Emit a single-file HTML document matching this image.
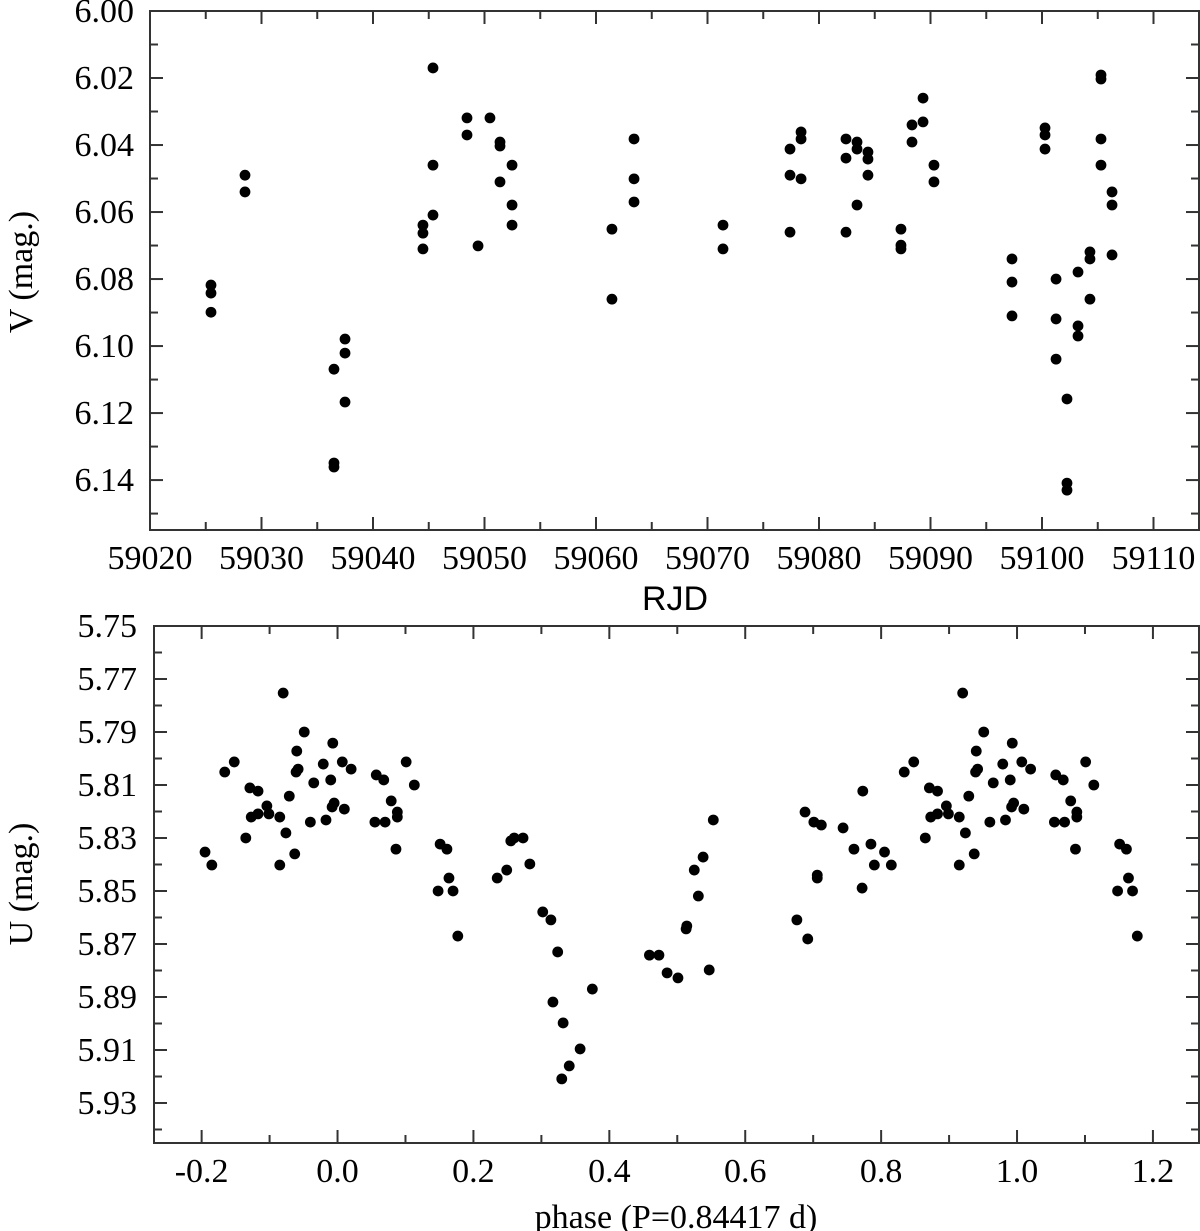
<!DOCTYPE html>
<html><head><meta charset="utf-8"><title>Light curves</title>
<style>html,body{margin:0;padding:0;background:#fff;}svg{display:block;}</style></head>
<body>
<svg id="chart" width="1200" height="1231" viewBox="0 0 1200 1231" xmlns="http://www.w3.org/2000/svg"></svg>
<script>
// Top panel data: RJD vs V magnitude
const rjd = [59025.47,59025.47,59025.47,59028.52,59028.52,59036.50,59037.49,59037.49,59037.49,59036.50,59036.50,
59044.48,59044.48,59044.48,59045.38,59045.38,59045.38,59048.43,59048.43,59049.42,59050.49,59051.39,59051.39,59051.39,
59052.47,59052.47,59052.47,59061.43,59061.43,59063.41,59063.41,59063.41,59071.39,59071.39,
59077.40,59077.40,59077.40,59078.39,59078.39,59078.39,59082.42,59082.42,59082.42,59083.41,59083.41,59083.41,
59084.39,59084.39,59084.39,59087.35,59087.35,59087.35,59088.34,59088.34,59089.33,59089.33,59090.31,59090.31,
59097.31,59097.31,59097.31,59100.27,59100.27,59100.27,59101.26,59101.26,59101.26,59102.24,59102.24,59102.24,
59103.23,59103.23,59103.23,59104.30,59104.30,59104.30,59105.29,59105.29,59105.29,59105.29,59106.28,59106.28,59106.28];
const vmag = [6.0818,6.0842,6.0899,6.0490,6.0540,6.1069,6.0979,6.1021,6.1167,6.1349,6.1361,
6.0639,6.0663,6.0710,6.0170,6.0460,6.0609,6.0319,6.0370,6.0701,6.0319,6.0391,6.0403,6.0510,
6.0460,6.0579,6.0639,6.0651,6.0860,6.0382,6.0501,6.0570,6.0639,6.0710,
6.0412,6.0490,6.0660,6.0361,6.0382,6.0501,6.0382,6.0439,6.0660,6.0391,6.0412,6.0579,
6.0421,6.0442,6.0490,6.0651,6.0699,6.0710,6.0340,6.0391,6.0260,6.0331,6.0460,6.0510,
6.0740,6.0809,6.0910,6.0349,6.0370,6.0412,6.0800,6.0919,6.1039,6.1158,6.1409,6.1430,
6.0779,6.0940,6.0970,6.0719,6.0740,6.0860,6.0191,6.0203,6.0382,6.0460,6.0540,6.0579,6.0728];
const topXTicks = [59020,59030,59040,59050,59060,59070,59080,59090,59100,59110];
const topYTicks = ["6.00","6.02","6.04","6.06","6.08","6.10","6.12","6.14"];

// Bottom panel data: phase vs U magnitude (phases < 0.2 repeated at +1)
const phase = [-0.195,-0.185,-0.166,-0.152,-0.135,-0.129,-0.117,-0.127,-0.117,-0.104,-0.101,-0.085,-0.076,-0.085,-0.080,
-0.071,-0.063,-0.060,-0.061,-0.058,-0.049,-0.040,-0.035,-0.021,-0.017,-0.010,-0.007,-0.008,-0.005,0.007,0.010,0.020,
0.055,0.057,0.068,0.070,0.079,0.088,0.088,0.086,0.101,0.113,0.151,0.161,0.164,0.148,0.170,0.177,
0.235,0.249,0.255,0.260,0.273,0.283,0.302,0.314,0.324,0.317,0.332,0.357,0.341,0.330,0.375,
0.459,0.473,0.485,0.501,0.547,0.513,0.514,0.531,0.525,0.538,0.553,
0.676,0.692,0.688,0.701,0.712,0.706,0.706,0.744,0.760,0.772,0.773,0.785,0.790];
const umag = [5.8353,5.8402,5.8051,5.8013,5.8300,5.8111,5.8123,5.8221,5.8209,5.8179,5.8209,5.8221,5.8281,5.8402,5.7753,
5.8142,5.8360,5.7972,5.8051,5.8040,5.7900,5.8240,5.8092,5.8021,5.8232,5.8081,5.7942,5.8183,5.8168,5.8013,5.8191,5.8040,
5.8240,5.8062,5.8081,5.8240,5.8160,5.8202,5.8221,5.8342,5.8013,5.8100,5.8323,5.8342,5.8451,5.8500,5.8500,5.8670,
5.8451,5.8421,5.8311,5.8300,5.8300,5.8398,5.8579,5.8609,5.8730,5.8919,5.8998,5.9096,5.9160,5.9209,5.8870,
5.8742,5.8742,5.8809,5.8828,5.8798,5.8643,5.8632,5.8519,5.8421,5.8372,5.8232,
5.8609,5.8681,5.8202,5.8240,5.8251,5.8440,5.8451,5.8262,5.8342,5.8489,5.8123,5.8323,5.8402];
const botXTicks = ["-0.2","0.0","0.2","0.4","0.6","0.8","1.0","1.2"];
const botYTicks = ["5.75","5.77","5.79","5.81","5.83","5.85","5.87","5.89","5.91","5.93"];

const NS = "http://www.w3.org/2000/svg";
const svg = document.getElementById('chart');
function mk(tag, attrs, parent){ const e=document.createElementNS(NS,tag); for(const k in attrs) e.setAttribute(k,attrs[k]); (parent||svg).appendChild(e); return e; }

function panel(cfg){
  const g = mk('g',{});
  
  
  const L=cfg.left,R=cfg.right,T=cfg.top,B=cfg.bottom;
  const sx = v => L + (v-cfg.x0)/(cfg.x1-cfg.x0)*(R-L);
  const sy = v => T + (v-cfg.y0)/(cfg.y1-cfg.y0)*(B-T);
  const frame = mk('rect',{x:L,y:T,width:R-L,height:B-T,fill:'none',stroke:'#333','stroke-width':2},g);
  
  
  const st = {stroke:'#333','stroke-width':2};
  for(let v=cfg.xMinorStart; v<=cfg.x1+1e-9; v+=cfg.xMinor){
    const x=sx(v); if(x<L+1||x>R-1) continue;
    const maj = Math.abs(((v-cfg.xMajorStart)/cfg.xMajor) - Math.round((v-cfg.xMajorStart)/cfg.xMajor))<1e-6;
    const len = maj?13:8;
    mk('line',Object.assign({x1:x,x2:x,y1:B,y2:B-len},st),g);
    mk('line',Object.assign({x1:x,x2:x,y1:T,y2:T+len},st),g);
  }
  for(let v=cfg.y0; v<=cfg.y1+1e-9; v+=cfg.yMinor){
    const y=sy(v); if(y<T+1||y>B-1) continue;
    const maj = Math.abs(((v-cfg.y0)/cfg.yMajor) - Math.round((v-cfg.y0)/cfg.yMajor))<1e-6;
    const len = maj?13:8;
    mk('line',Object.assign({x1:L,x2:L+len,y1:y,y2:y},st),g);
    mk('line',Object.assign({x1:R,x2:R-len,y1:y,y2:y},st),g);
  }
  cfg.xTicks.forEach(t=>{
    const tx = mk('text',{x:sx(parseFloat(t)),y:B+39,'text-anchor':'middle','font-family':'"Liberation Serif",serif','font-size':34,fill:'#000'},g);
    tx.textContent=t;
    
    
  });
  cfg.yTicks.forEach(t=>{
    const ty = mk('text',{x:cfg.labelRight,y:sy(parseFloat(t))+11,'text-anchor':'end','font-family':'"Liberation Serif",serif','font-size':34,fill:'#000'},g);
    ty.textContent=t;
    
    
  });
  const pts = mk('g',{fill:'#000'},g);
  
  
  cfg.xs.forEach((xv,i)=>{
    const reps = cfg.wrap ? [xv, xv+1] : [xv];
    reps.forEach(v=>{
      if(v<cfg.x0||v>cfg.x1) return;
      if(cfg.wrap && v>1.2) return;
      const c = mk('circle',{cx:sx(v),cy:sy(cfg.ys[i]),r:5.4},pts);
      
      
    });
  });
  return {sx,sy};
}

panel({name:'rjd-panel',left:150,right:1199,top:11,bottom:530,labelRight:134,
  x0:59020,x1:59114.08,y0:6.00,y1:6.1549,xMinorStart:59020,xMinor:5,xMajorStart:59020,xMajor:10,
  yMinor:0.01,yMajor:0.02,xTicks:topXTicks.map(String),yTicks:topYTicks,xs:rjd,ys:vmag,wrap:false});
panel({name:'phase-panel',left:154,right:1199,top:626,bottom:1143,labelRight:137,
  x0:-0.2701,x1:1.2678,y0:5.75,y1:5.9451,xMinorStart:-0.2,xMinor:0.1,xMajorStart:-0.2,xMajor:0.2,
  yMinor:0.01,yMajor:0.02,xTicks:botXTicks,yTicks:botYTicks,xs:phase,ys:umag,wrap:true});

function label(txt,x,y,rot,name,fam){
  const t = mk('text',{x:x,y:y,'text-anchor':'middle','font-family':fam,'font-size':34,fill:'#000'});
  if(rot) t.setAttribute('transform','rotate(-90 '+x+' '+y+')');
  t.textContent=txt;
  
  
}
label('RJD',675,610,false,'top-x-axis-title','"Liberation Sans",sans-serif');
label('V (mag.)',32,272,true,'top-y-axis-title','"Liberation Serif",serif');
label('phase (P=0.84417 d)',676,1228,false,'bottom-x-axis-title','"Liberation Serif",serif');
label('U (mag.)',32,884,true,'bottom-y-axis-title','"Liberation Serif",serif');
</script>
</body></html>
